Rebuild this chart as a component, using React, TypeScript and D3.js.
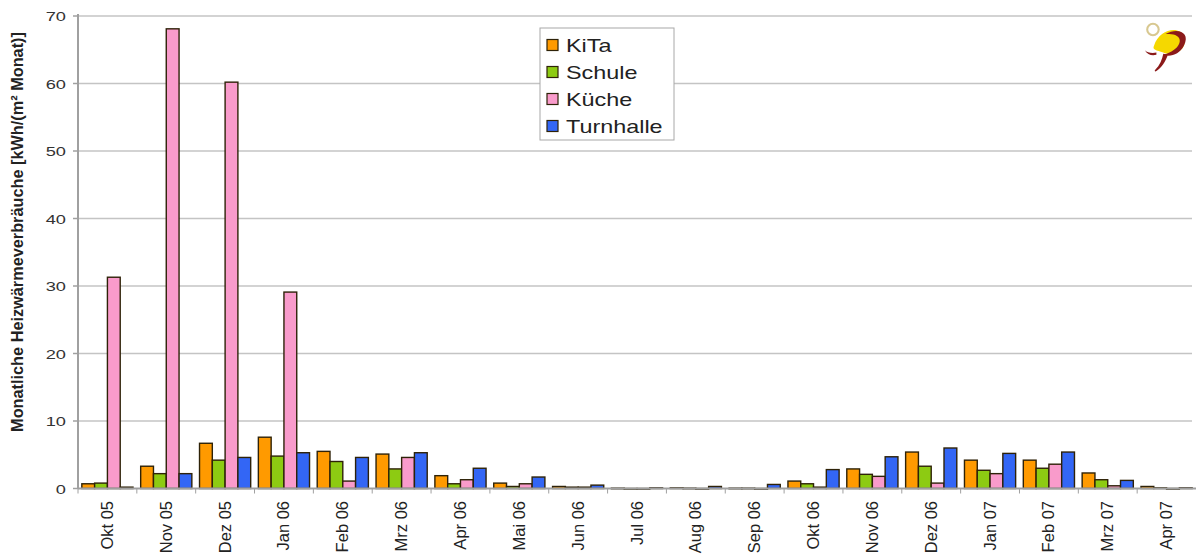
import React from "react";
import * as d3 from "d3";

const months = ["Okt 05","Nov 05","Dez 05","Jan 06","Feb 06","Mrz 06","Apr 06","Mai 06","Jun 06","Jul 06","Aug 06","Sep 06","Okt 06","Nov 06","Dez 06","Jan 07","Feb 07","Mrz 07","Apr 07"];
const kita = [0.7,3.3,6.7,7.6,5.5,5.1,1.9,0.8,0.3,0.05,0.1,0.05,1.1,2.9,5.4,4.2,4.2,2.3,0.3];
const schule = [0.8,2.2,4.2,4.8,4.0,2.9,0.7,0.3,0.2,0,0.05,0.05,0.7,2.1,3.3,2.7,3.0,1.3,0.1];
const kueche = [31.3,68.1,60.2,29.1,1.1,4.6,1.3,0.7,0.2,0,0,0,0.2,1.8,0.8,2.2,3.6,0.4,0];
const turnhalle = [0.2,2.2,4.6,5.3,4.6,5.3,3.0,1.7,0.5,0.1,0.3,0.6,2.8,4.7,6.0,5.2,5.4,1.2,0.1];
const seriesNames = ["KiTa","Schule","Küche","Turnhalle"];
const seriesColors = ["#FF9A00","#8DCB12","#F99BCB","#3366F5"];
const yTicks = [0,10,20,30,40,50,60,70];
const yTitle = "Monatliche Heizwärmeverbräuche [kWh/(m² Monat)]";

export default function App() {
  const W = 1196, H = 557;
  const left = 78, right = 1196, top = 16, bottom = 488.5;
  const x = d3.scaleBand<string>().domain(months).range([left, right]).padding(0);
  const inner = d3.scaleBand<string>().domain(seriesNames).range([0, x.bandwidth()]).paddingInner(0).paddingOuter(0.3);
  const y = d3.scaleLinear().domain([0, 70]).range([bottom, top]);
  const allSeries = [kita, schule, kueche, turnhalle];
  const font = "'Liberation Sans', Arial, sans-serif";

  return (
    <svg width={W} height={H} style={{ position: "absolute", left: 0, top: 0, background: "#fff" }} fontFamily={font}>
      {yTicks.filter(t => t > 0).map(t => (
        <line key={"g" + t} x1={left} x2={right - 4} y1={y(t)} y2={y(t)} stroke="#C4C4C4" strokeWidth={1.5} />
      ))}
      {yTicks.map(t => (
        <g key={"t" + t}>
          <line x1={left - 5} x2={left} y1={y(t)} y2={y(t)} stroke="#A0A0A0" strokeWidth={1.5} />
          <text transform={`translate(66,${y(t) + 5}) scale(1.35,1)`} textAnchor="end" fontSize={13.5} fill="#333">{t}</text>
        </g>
      ))}
      {allSeries.map((vals, si) => (
        <g key={"s" + si}>
          {vals.map((v, i) => {
            const bx = (x(months[i]) as number) + (inner(seriesNames[si]) as number);
            const h = bottom - y(v);
            return (
              <rect key={i} x={bx} y={y(v)} width={inner.bandwidth()} height={Math.max(h, 0.6)}
                fill={seriesColors[si]} stroke="#2e2208" strokeWidth={1.4} />
            );
          })}
        </g>
      ))}
      <line x1={left} x2={left} y1={top - 2} y2={bottom} stroke="#A0A0A0" strokeWidth={2} />
      <line x1={left} x2={right} y1={bottom} y2={bottom} stroke="#A0A0A0" strokeWidth={2} />
      {months.map((m, i) => (
        <line key={"xt" + i} x1={(x(m) as number)} x2={(x(m) as number)} y1={bottom} y2={bottom + 5} stroke="#A0A0A0" strokeWidth={1} />
      ))}
      {months.map(m => {
        const cx = (x(m) as number) + x.bandwidth() / 2;
        return (
          <text key={"xl" + m} transform={`translate(${cx + 5.5},${501}) rotate(-90)`} textAnchor="end" fontSize={16.5} fill="#222">{m}</text>
        );
      })}
      <text transform={`translate(23,232) rotate(-90)`} textAnchor="middle" fontSize={16.3} fontWeight="bold" fill="#222">{yTitle}</text>
      <rect x={540} y={28} width={134} height={112} fill="#fff" stroke="#A8A8A8" strokeWidth={1} />
      {seriesNames.map((n, i) => {
        const cy = 45 + i * 27;
        return (
          <g key={"l" + n}>
            <rect x={547} y={cy - 5.5} width={11} height={11} fill={seriesColors[i]} stroke="#2e2208" strokeWidth={1.2} />
            <text transform={`translate(566,${cy + 6.5}) scale(1.3,1)`} fontSize={18} fill="#222">{n}</text>
          </g>
        );
      })}
      <g transform="translate(1138,18) scale(1.15)">
        <circle cx={13} cy={10} r={5} fill="none" stroke="#D8C890" strokeWidth={1.8} />
        <path d="M14,24 C18,10 36,6 40,16 C44,28 30,34 22,30 C16,28 12,28 14,24 Z" fill="#F5D800" />
        <path d="M24,14 C34,8 46,12 40,24 C36,32 28,34 22,32 C30,30 38,24 36,18 C34,14 28,14 24,14 Z" fill="#8B1A1A" />
        <path d="M26,32 C24,38 20,44 16,46 C15,47 14,46 15,45 C19,41 21,36 22,31 Z" fill="#8B1A1A" />
        <path d="M6,28 C8,30 12,31 16,30 L16,32 C12,33 8,32 6,28 Z" fill="#8B1A1A" />
      </g>
    </svg>
  );
}
